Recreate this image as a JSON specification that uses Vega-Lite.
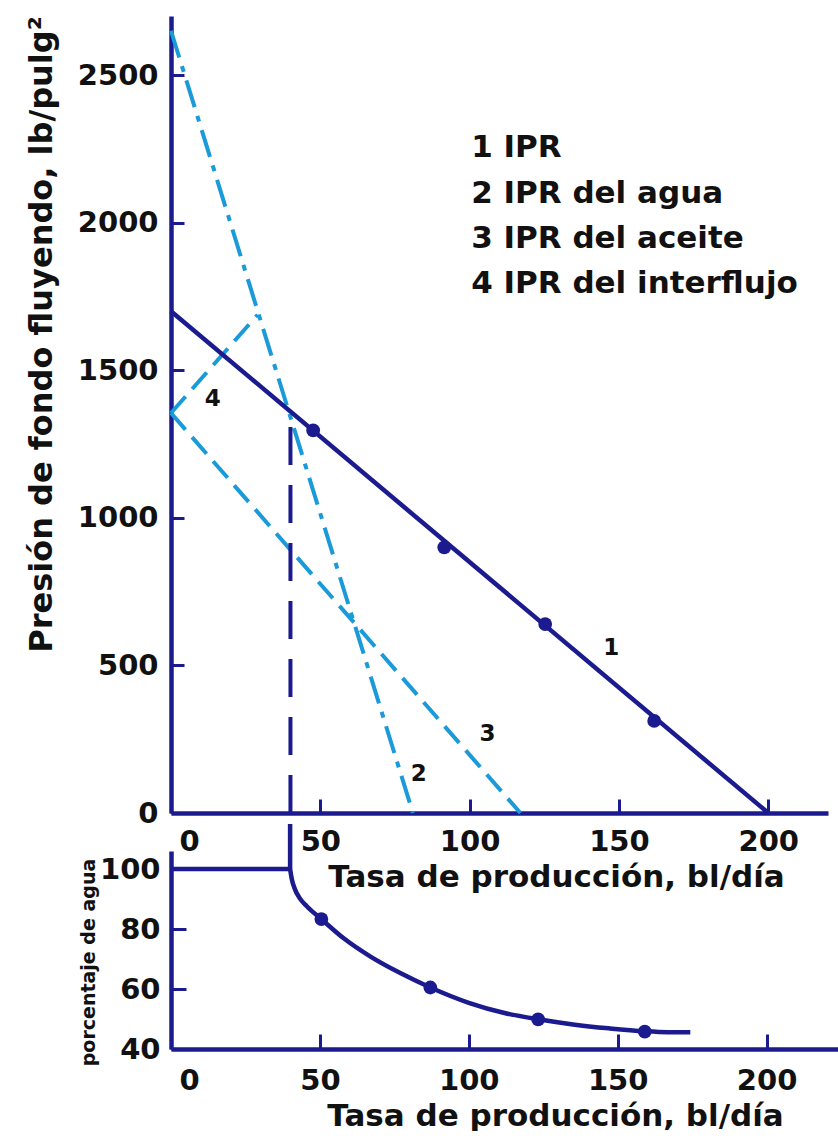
{
  "$schema": "https://vega.github.io/schema/vega-lite/v6.json",
  "background": "white",
  "padding": {"left": 24, "top": 15, "right": 0, "bottom": 0},
  "bounds": "flush",
  "spacing": 38,
  "config": {
    "view": {"stroke": null},
    "font": "DejaVu Sans",
    "axis": {
      "grid": false,
      "domainColor": "#1b1b8f",
      "domainWidth": 4.5,
      "tickColor": "#1b1b8f",
      "tickWidth": 3,
      "labelFont": "DejaVu Sans",
      "labelFontWeight": "bold",
      "labelColor": "#111111",
      "titleFont": "DejaVu Sans",
      "titleFontWeight": "bold",
      "titleColor": "#111111"
    }
  },
  "datasets": {
    "ipr": [
      {"serie": "1", "q": 0, "p": 1700},
      {"serie": "1", "q": 200, "p": 0},
      {"serie": "2", "q": 0, "p": 2650},
      {"serie": "2", "q": 81, "p": 0},
      {"serie": "3", "q": 0, "p": 1355},
      {"serie": "3", "q": 117, "p": 0},
      {"serie": "4", "q": 0, "p": 1355},
      {"serie": "4", "q": 29, "p": 1688},
      {"serie": "v", "q": 40, "p": 0},
      {"serie": "v", "q": 40, "p": 1362}
    ],
    "medidos": [
      {"q": 47.6, "p": 1296},
      {"q": 91.5, "p": 900},
      {"q": 125.3, "p": 640},
      {"q": 161.8, "p": 312}
    ],
    "etiquetas": [
      {"q": 14, "p": 1403, "t": "4"},
      {"q": 147.4, "p": 559, "t": "1"},
      {"q": 83, "p": 132, "t": "2"},
      {"q": 106, "p": 268, "t": "3"}
    ],
    "leyenda": [
      {"q": 100.5, "p": 2253, "t": "1 IPR"},
      {"q": 100.5, "p": 2097, "t": "2 IPR del agua"},
      {"q": 100.5, "p": 1944, "t": "3 IPR del aceite"},
      {"q": 100.5, "p": 1792, "t": "4 IPR del interflujo"}
    ],
    "agua": [
      {"serie": "h", "q": 0, "w": 100},
      {"serie": "h", "q": 40, "w": 100},
      {"serie": "v", "q": 40, "w": 100},
      {"serie": "v", "q": 40, "w": 115},
      {"serie": "c", "q": 40, "w": 100},
      {"serie": "c", "q": 40.6, "w": 96.5},
      {"serie": "c", "q": 41.6, "w": 93.3},
      {"serie": "c", "q": 43.2, "w": 90.3},
      {"serie": "c", "q": 45.6, "w": 87.6},
      {"serie": "c", "q": 50.5, "w": 83.3},
      {"serie": "c", "q": 58, "w": 76.9},
      {"serie": "c", "q": 67, "w": 70.8},
      {"serie": "c", "q": 77, "w": 65.3},
      {"serie": "c", "q": 87.1, "w": 60.5},
      {"serie": "c", "q": 100, "w": 55.4},
      {"serie": "c", "q": 112, "w": 52.0},
      {"serie": "c", "q": 123.3, "w": 49.9},
      {"serie": "c", "q": 135, "w": 48.2},
      {"serie": "c", "q": 147, "w": 46.9},
      {"serie": "c", "q": 159.1, "w": 45.9},
      {"serie": "c", "q": 167, "w": 45.6},
      {"serie": "c", "q": 174.4, "w": 45.6}
    ],
    "agua_medida": [
      {"q": 50.5, "w": 83.3},
      {"q": 87.1, "w": 60.5},
      {"q": 123.3, "w": 49.9},
      {"q": 159.1, "w": 45.8}
    ]
  },
  "vconcat": [
    {
      "width": 657,
      "height": 797,
      "encoding": {
        "x": {
          "field": "q",
          "type": "quantitative",
          "scale": {"domain": [0, 220], "nice": false, "zero": false},
          "axis": {
            "values": [0, 50, 100, 150, 200],
            "format": "d",
            "tickSize": -14,
            "labelPadding": 28,
            "labelFontSize": 29,
            "labelFlush": true,
            "labelFlushOffset": -8,
            "title": "Tasa de producción, bl/día",
            "titleFontSize": 31,
            "titleX": 385,
            "titleY": 73,
            "titleBaseline": "alphabetic"
          }
        },
        "y": {
          "field": "p",
          "type": "quantitative",
          "scale": {"domain": [0, 2700], "nice": false, "zero": false},
          "axis": {
            "values": [0, 500, 1000, 1500, 2000, 2500],
            "format": "d",
            "tickSize": -13,
            "labelPadding": 26,
            "labelFontSize": 29,
            "title": "Presión de fondo fluyendo, lb/pulg²",
            "titleFontSize": 32,
            "titleAngle": 270,
            "titleX": -130,
            "titleY": 318,
            "titleAlign": "center",
            "titleBaseline": "middle"
          }
        }
      },
      "layer": [
        {
          "data": {"name": "ipr"},
          "transform": [{"filter": "datum.serie == '3' || datum.serie == '4'"}],
          "mark": {"type": "line", "color": "#1a9ad9", "strokeWidth": 4, "strokeDash": [22, 10]},
          "encoding": {"detail": {"field": "serie"}}
        },
        {
          "data": {"name": "ipr"},
          "transform": [{"filter": "datum.serie == '2'"}],
          "mark": {"type": "line", "color": "#1a9ad9", "strokeWidth": 4, "strokeDash": [28, 9, 6, 9]},
          "encoding": {}
        },
        {
          "data": {"name": "ipr"},
          "transform": [{"filter": "datum.serie == 'v'"}],
          "mark": {"type": "line", "color": "#1b1b8f", "strokeWidth": 4, "strokeDash": [38, 20]},
          "encoding": {}
        },
        {
          "data": {"name": "ipr"},
          "transform": [{"filter": "datum.serie == '1'"}],
          "mark": {"type": "line", "color": "#1b1b8f", "strokeWidth": 4.5},
          "encoding": {}
        },
        {
          "data": {"name": "medidos"},
          "mark": {"type": "circle", "color": "#1b1b8f", "opacity": 1, "size": 190}
        },
        {
          "data": {"name": "etiquetas"},
          "mark": {"type": "text", "font": "DejaVu Sans", "fontWeight": "bold", "fontSize": 23, "color": "#111111", "align": "center", "baseline": "middle"},
          "encoding": {"text": {"field": "t"}}
        },
        {
          "data": {"name": "leyenda"},
          "mark": {"type": "text", "font": "DejaVu Sans", "fontWeight": "bold", "fontSize": 31, "color": "#111111", "align": "left", "baseline": "middle"},
          "encoding": {"text": {"field": "t"}}
        }
      ]
    },
    {
      "width": 667,
      "height": 198,
      "encoding": {
        "x": {
          "field": "q",
          "type": "quantitative",
          "scale": {"domain": [0, 224], "nice": false, "zero": false},
          "axis": {
            "values": [0, 50, 100, 150, 200],
            "format": "d",
            "tickSize": -15,
            "labelPadding": 32,
            "labelFontSize": 29,
            "labelFlush": true,
            "labelFlushOffset": -8,
            "title": "Tasa de producción, bl/día",
            "titleFontSize": 31,
            "titleX": 384,
            "titleY": 76,
            "titleBaseline": "alphabetic"
          }
        },
        "y": {
          "field": "w",
          "type": "quantitative",
          "scale": {"domain": [40, 106], "nice": false, "zero": false},
          "axis": {
            "values": [40, 60, 80, 100],
            "format": "d",
            "tickSize": -15,
            "labelPadding": 26,
            "labelFontSize": 29,
            "title": "porcentaje de agua",
            "titleFontSize": 19,
            "titleAngle": 270,
            "titleX": -83,
            "titleY": 111,
            "titleAlign": "center",
            "titleBaseline": "middle"
          }
        }
      },
      "layer": [
        {
          "data": {"name": "agua"},
          "mark": {"type": "line", "color": "#1b1b8f", "strokeWidth": 4.5, "interpolate": "monotone"},
          "encoding": {"detail": {"field": "serie"}}
        },
        {
          "data": {"name": "agua_medida"},
          "mark": {"type": "circle", "color": "#1b1b8f", "opacity": 1, "size": 190}
        }
      ]
    }
  ]
}
